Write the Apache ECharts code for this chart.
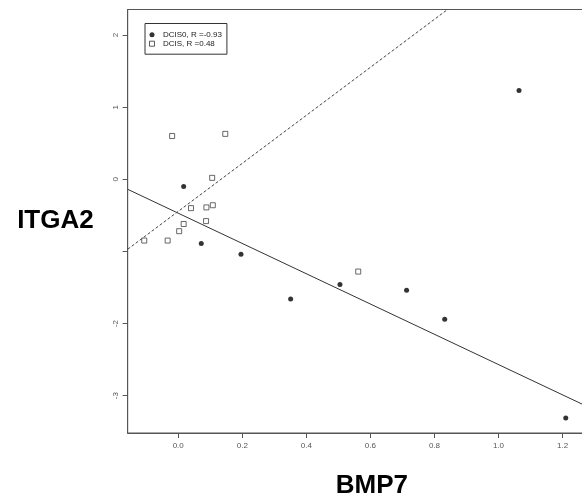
<!DOCTYPE html>
<html><head><meta charset="utf-8">
<script src="https://cdn.jsdelivr.net/npm/echarts@6/dist/echarts.min.js"></script>
<style>html,body{margin:0;padding:0;background:#fff}#c{width:582px;height:504px}</style>
</head><body><div id="c"></div>
<script>
// ---- data ----
const xTicks = [0, 0.2, 0.4, 0.6, 0.8, 1.0, 1.2];
const yTicks = [-3, -2, -1, 0, 1, 2];
const yTickLabels = [-3, -2, 0, 1, 2];
const seriesNames = ['DCIS0, R =-0.93', 'DCIS, R =0.48'];
const dcis0X = [0.017, 0.072, 0.196, 0.351, 0.505, 0.713, 0.832, 1.064, 1.210];
const dcis0Y = [-0.10, -0.89, -1.04, -1.66, -1.46, -1.54, -1.94, 1.23, -3.31];
const dcisX = [-0.019, 0.147, 0.106, 0.040, 0.088, 0.108, 0.087, 0.017, 0.003, -0.106, -0.033, 0.562];
const dcisY = [0.60, 0.63, 0.02, -0.40, -0.39, -0.36, -0.58, -0.62, -0.72, -0.85, -0.85, -1.28];
const dcis0Fit = [-0.47, -2.10];   // intercept, slope
const dcisFit = [-0.445, 3.33];    // intercept, slope
const xRange = [-0.1577, 1.3668];
const yRange = [-3.519, 2.355];

const small = "'Liberation Sans',Arial,sans-serif";
const zip = (xs, ys) => xs.map((x, i) => [x, ys[i]]);
const fitLine = f => xRange.map(x => [x, f[0] + f[1] * x]);

const chart = echarts.init(document.getElementById('c'), null, {renderer: 'canvas'});
chart.setOption({
  animation: false,
  backgroundColor: '#fff',
  grid: {left: 127.7, right: -34, top: 9.5, bottom: 71, show: true, borderColor: '#555', borderWidth: 1,
         backgroundColor: 'transparent', containLabel: false, outerBoundsMode: 'none'},
  legend: {
    orient: 'vertical', left: 145, top: 23.5,
    padding: [6.7, 5, 6, 4],
    itemWidth: 12, itemHeight: 5, itemGap: 0,
    symbolKeepAspect: true,
    borderColor: '#333', borderWidth: 1, borderRadius: 0,
    textStyle: {fontSize: 8, lineHeight: 9, fontFamily: small, color: '#222'},
    data: [
      {name: seriesNames[0], icon: 'circle', itemStyle: {color: '#000', borderWidth: 0}},
      {name: seriesNames[1], icon: 'path://M0,0H10V10H0Z', itemStyle: {color: '#fff', borderColor: '#333', borderWidth: 1}}
    ]
  },
  xAxis: {
    type: 'value', min: xRange[0], max: xRange[1],
    axisLine: {show: true, onZero: false, lineStyle: {color: '#555', width: 1}},
    axisTick: {show: true, customValues: xTicks, length: 5, lineStyle: {color: '#555'}},
    axisLabel: {customValues: xTicks, formatter: v => Number(v).toFixed(1), color: '#555', fontSize: 8, fontFamily: small, margin: 9},
    splitLine: {show: false},
    name: 'BMP7', nameLocation: 'middle', nameGap: 40,
    nameTextStyle: {fontSize: 26, fontWeight: 'bold', color: '#000', fontFamily: small}
  },
  yAxis: {
    type: 'value', min: yRange[0], max: yRange[1],
    axisLine: {show: true, onZero: false, lineStyle: {color: '#555', width: 1}},
    axisTick: {show: true, customValues: yTicks, length: 5, lineStyle: {color: '#555'}},
    axisLabel: {customValues: yTickLabels, formatter: v => String(v), rotate: 90, color: '#555', fontSize: 8, fontFamily: small, margin: 8},
    splitLine: {show: false},
    name: 'ITGA2', nameLocation: 'middle', nameGap: 34, nameRotate: 0,
    nameTextStyle: {fontSize: 26, fontWeight: 'bold', color: '#000', fontFamily: small}
  },
  series: [
    {name: seriesNames[0], type: 'scatter', symbol: 'circle', symbolSize: 5, itemStyle: {color: '#000'}, data: zip(dcis0X, dcis0Y), z: 3},
    {name: seriesNames[1], type: 'scatter', symbol: 'rect', symbolSize: 5, itemStyle: {color: '#fff', borderColor: '#444', borderWidth: 1}, data: zip(dcisX, dcisY), z: 3},
    {name: 'DCIS0 fit', type: 'line', data: fitLine(dcis0Fit), symbol: 'none', clip: true, silent: true, lineStyle: {color: '#333', width: 1, type: 'solid'}, z: 2},
    {name: 'DCIS fit', type: 'line', data: fitLine(dcisFit), symbol: 'none', clip: true, silent: true, lineStyle: {color: '#444', width: 1, type: [3, 2]}, z: 2}
  ]
});
</script></body></html>
